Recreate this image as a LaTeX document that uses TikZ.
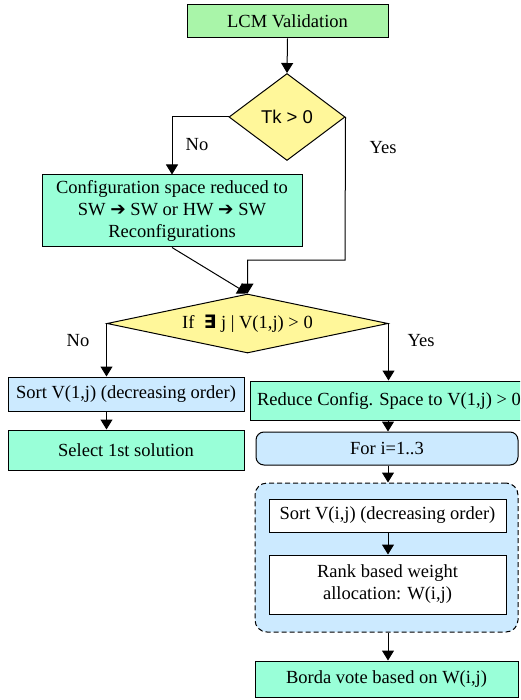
\documentclass[tikz,border=0pt]{standalone}
\usepackage{amsmath}
\usepackage{amssymb}
\usepackage{fontspec}
\setmainfont{Liberation Serif}
\newfontfamily\arialfont{Liberation Sans}
\usepackage{tikz}
\usetikzlibrary{arrows.meta,shapes.geometric}
\definecolor{lcmgreen}{HTML}{A9F5A9}
\definecolor{aqua}{HTML}{99FFD8}
\definecolor{lightyel}{HTML}{FFF79A}
\definecolor{paleblue}{HTML}{CCEAFF}

\begin{document}
\begin{tikzpicture}[x=1pt,y=-1pt,line width=1pt,
  font=\fontsize{18.5}{22}\selectfont,
  box/.style={draw=black,rectangle,inner sep=0pt,align=center},
  cond/.style={draw=black,diamond,fill=lightyel,inner sep=0pt},
  arr/.style={-{Triangle[width=12pt,length=10pt]}}]
\clip (0,0) rectangle (520,700);
\fill[white] (0,0) rectangle (520,700);

\node[box,fill=lcmgreen,minimum width=201,minimum height=33] (lcm) at (287.5,21.5) {LCM Validation};
\node[cond,minimum width=116,minimum height=87] (tk) at (287,117) {\arialfont Tk > 0};
\node[box,fill=aqua,minimum width=260,minimum height=72] (cfg) at (172,211)
  {Configuration space reduced to\\SW {\fontspec{DejaVu Sans}\bfseries ➔} SW or HW {\fontspec{DejaVu Sans}\bfseries ➔} SW\\Reconfigurations};
\node[cond,aspect=4.76,minimum width=281,minimum height=59] (vj) at (247.5,323.5)
  {If\ \ {\fontspec{DejaVu Sans}\bfseries ∃}\ j\ |\ V(1,j) > 0};

\node[box,fill=paleblue,minimum width=236,minimum height=34] (sort1) at (126,394) {Sort V(1,j) (decreasing order)};
\node[box,fill=aqua,minimum width=236,minimum height=40] (select) at (126,450) {Select 1st solution};

\node[box,fill=aqua,minimum width=278,minimum height=39] (reduce) at (389,400.5) {Reduce Config. Space to V(1,j) > 0};
\node[box,fill=paleblue,rounded corners=8,minimum width=262,minimum height=33] (for) at (387,448.5) {For i=1..3};
\node[box,fill=paleblue,dash pattern=on 5pt off 3pt,rounded corners=12,minimum width=263,minimum height=149] (grp) at (386.5,557.5) {};
\node[box,fill=white,minimum width=237,minimum height=33] (sorti) at (387.5,515.5) {Sort V(i,j) (decreasing order)};
\node[box,fill=white,minimum width=237,minimum height=59] (rank) at (387.5,584.5) {Rank based weight\\allocation: W(i,j)};
\node[box,fill=aqua,minimum width=263,minimum height=36] (borda) at (386.5,679) {Borda vote based on W(i,j)};

\coordinate (yj) at (345,260);
\coordinate (rx) at (388,0);

\draw[arr] (lcm.south) -- (tk.north);
\draw[arr] (tk.west) -| (cfg.north);
\draw[arr] (tk.east) -- (yj) -| (vj.north);
\draw[arr] (cfg.south) -- (vj.north);
\draw[arr] (vj.west) -- (vj.west |- sort1.north);
\draw[arr] (vj.east) -- (vj.east |- reduce.north);
\draw[arr] (vj.west |- sort1.south) -- (vj.west |- select.north);
\draw[arr] (rx |- reduce.south) -- (rx |- for.north);
\draw[arr] (rx |- for.south) -- (rx |- grp.north);
\draw[arr] (rx |- sorti.south) -- (rx |- rank.north);
\draw[arr] (rx |- grp.south) -- (rx |- borda.north);

\node (no1) at (197,145) {No};
\node (yes1) at (383,148) {Yes};
\node (no2) at (78,341) {No};
\node (yes2) at (421,341) {Yes};
\end{tikzpicture}
\end{document}
